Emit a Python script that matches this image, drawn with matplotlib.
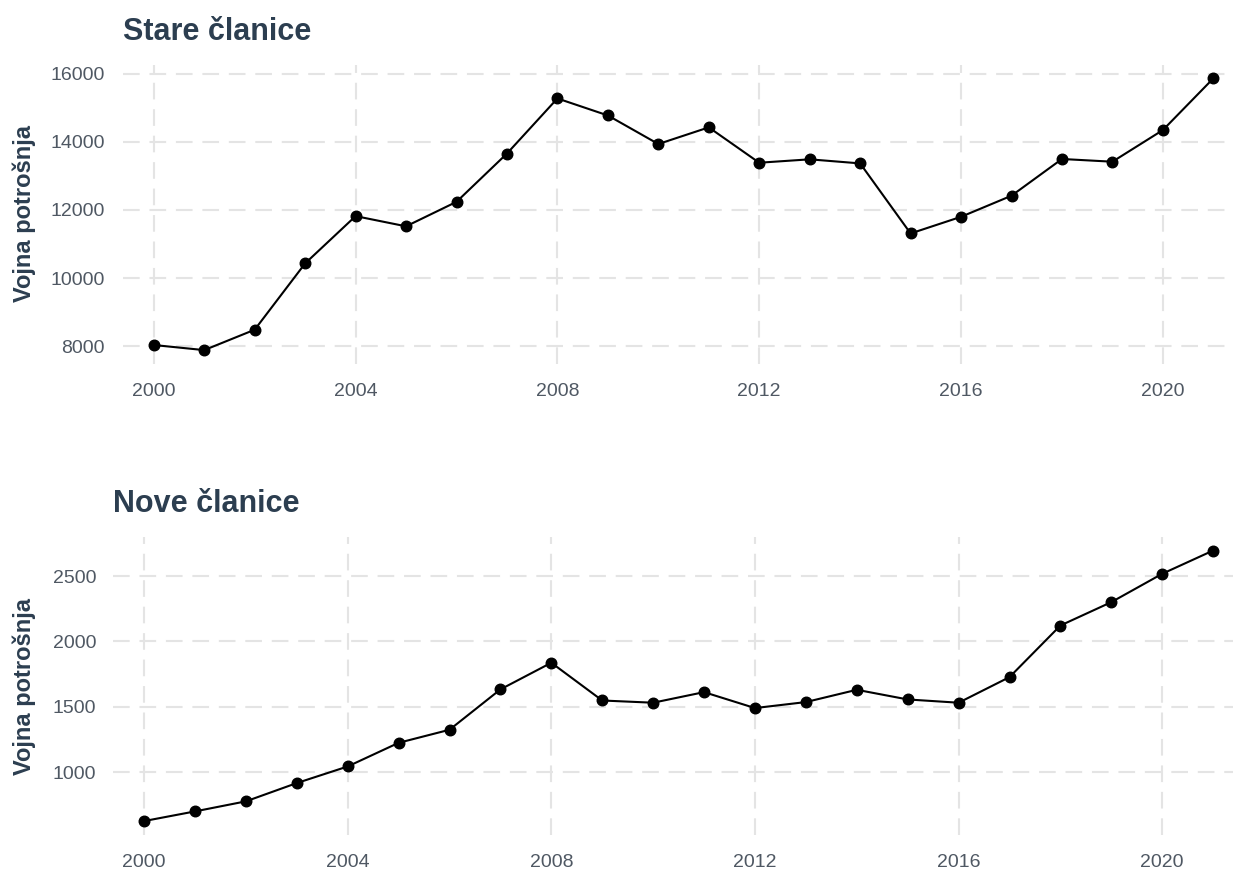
import matplotlib
matplotlib.use('Agg')
import matplotlib.pyplot as plt

plt.rcParams['font.family'] = ['Liberation Sans', 'DejaVu Sans']

years = list(range(2000, 2022))
stare = [8030, 7880, 8480, 10430, 11820, 11520, 12240, 13660, 15280, 14780, 13940,
         14430, 13390, 13490, 13370, 11310, 11800, 12420, 13500, 13420, 14350, 15870]
nove = [625, 699, 776, 916, 1043, 1224, 1324, 1633, 1837, 1548, 1531,
        1612, 1490, 1536, 1630, 1556, 1531, 1727, 2122, 2301, 2518, 2696]

x_ticks = [2000, 2004, 2008, 2012, 2016, 2020]
stare_ticks = [8000, 10000, 12000, 14000, 16000]
nove_ticks = [1000, 1500, 2000, 2500]

title_color = '#2c3e50'
tick_color = '#4f5863'
grid_color = '#e4e4e4'


def draw_panel(ax, values, yticks, title, ypad):
    ax.plot(years, values, color='black', linewidth=1.5, marker='o', markersize=7.6)
    ax.set_xticks(x_ticks)
    ax.set_yticks(yticks)
    ax.set_xlim(1999.39, 2021.39)
    span = max(values) - min(values)
    ax.set_ylim(min(values) - 0.05 * span, max(values) + 0.05 * span)
    ax.grid(True, color=grid_color, linewidth=1.5, linestyle=(0, (8, 4.7)))
    ax.set_axisbelow(True)
    for s in ax.spines.values():
        s.set_visible(False)
    ax.tick_params(axis='x', length=0, pad=14, labelsize=14, labelcolor=tick_color)
    ax.tick_params(axis='y', length=0, pad=ypad, labelsize=14, labelcolor=tick_color)
    ax.set_title(title, loc='left', fontsize=22, fontweight='bold', color=title_color, pad=18)


fig = plt.figure(figsize=(12.33, 8.71), dpi=100)
ax1 = fig.add_axes([123 / 1233, 1 - 363.7 / 871, 1110 / 1233, 298.9 / 871])
ax2 = fig.add_axes([113 / 1233, 1 - 834.6 / 871, 1120 / 1233, 297.6 / 871])

draw_panel(ax1, stare, stare_ticks, 'Stare članice', 13)
draw_panel(ax2, nove, nove_ticks, 'Nove članice', 12)

fig.text(24 / 1233, 1 - 213 / 871, 'Vojna potrošnja', rotation=90, ha='center', va='center',
         fontsize=17, fontweight='bold', color=title_color)
fig.text(24 / 1233, 1 - 686 / 871, 'Vojna potrošnja', rotation=90, ha='center', va='center',
         fontsize=17, fontweight='bold', color=title_color)

fig.savefig('out.png', dpi=100, facecolor='white')
